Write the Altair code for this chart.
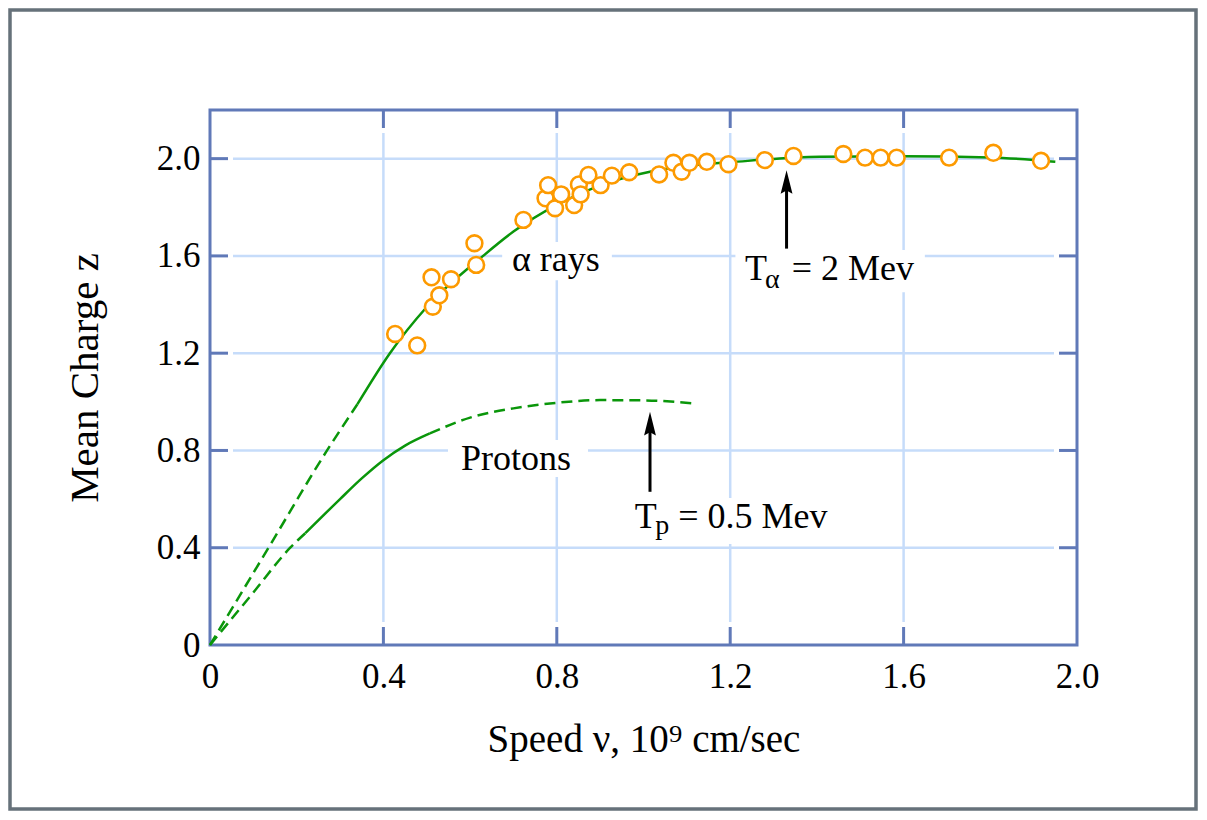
import altair as alt
import pandas as pd

FONT = "Liberation Serif"
GREEN = "#0a960a"
ORANGE = "#fd9a00"
AXIS_BLUE = "#6079b8"
GRID_BLUE = "#c6dcfa"

# alpha-ray measurements (speed in 1e9 cm/s, mean charge)
alpha_v = [0.427, 0.478, 0.511, 0.514, 0.529, 0.556, 0.610, 0.614, 0.723, 0.774,
           0.780, 0.796, 0.810, 0.840, 0.851, 0.855, 0.873, 0.901, 0.927, 0.967,
           1.036, 1.069, 1.088, 1.106, 1.146, 1.196, 1.280, 1.346, 1.461, 1.511,
           1.547, 1.584, 1.705, 1.807, 1.917]
alpha_z = [1.279, 1.232, 1.512, 1.391, 1.438, 1.504, 1.652, 1.563, 1.748, 1.837,
           1.891, 1.796, 1.853, 1.809, 1.894, 1.853, 1.933, 1.891, 1.930, 1.944,
           1.935, 1.983, 1.946, 1.983, 1.987, 1.977, 1.994, 2.011, 2.019, 2.004,
           2.004, 2.004, 2.004, 2.024, 1.991]

# alpha curve: dashed (extrapolated) and solid parts
alpha_dash_v = [0.0, 0.135, 0.27, 0.34]
alpha_dash_z = [0.0, 0.40, 0.80, 0.99]
alpha_solid_v = [0.34, 0.415, 0.5, 0.63, 0.7, 0.8, 0.9, 1.015, 1.1, 1.2, 1.407, 1.6, 1.8, 1.95]
alpha_solid_z = [0.99, 1.20, 1.39, 1.60, 1.70, 1.81, 1.89, 1.946, 1.97, 1.985, 2.008, 2.01, 2.005, 1.987]

# proton curve: dashed, solid, dashed
proton_dash1_v = [0.0, 0.1, 0.185, 0.22]
proton_dash1_z = [0.0, 0.216, 0.40, 0.46]
proton_solid_v = [0.22, 0.3, 0.35, 0.4, 0.45, 0.507]
proton_solid_z = [0.46, 0.60, 0.685, 0.76, 0.82, 0.87]
proton_dash2_v = [0.507, 0.6, 0.7, 0.8, 0.9, 1.0, 1.114]
proton_dash2_z = [0.87, 0.935, 0.973, 0.996, 1.007, 1.006, 0.994]

x_tick_vals = [0.4, 0.8, 1.2, 1.6]
y_tick_vals = [0.4, 0.8, 1.2, 1.6, 2.0]
x_label_vals = [0, 0.4, 0.8, 1.2, 1.6, 2.0]
y_label_vals = [0, 0.4, 0.8, 1.2, 1.6, 2.0]

# annotations
main_text = ["T", "= 2 Mev", "T", "= 0.5 Mev"]
main_text_v = [1.234, 1.342, 0.980, 1.080]
main_text_z = [1.501, 1.501, 0.48, 0.48]
center_text = ["α rays", "Protons"]
center_text_v = [0.798, 0.706]
center_text_z = [1.539, 0.72]
sub_text = ["α", "p"]
sub_text_v = [1.280, 1.027]
sub_text_z = [1.470, 0.458]

# white patches behind labels (break the grid lines)
patch_v1 = [0.674, 0.549, 1.212, 0.957]
patch_v2 = [0.927, 0.872, 1.649, 1.453]
patch_z1 = [1.50, 0.691, 1.451, 0.415]
patch_z2 = [1.657, 0.843, 1.624, 0.605]

# arrows
arrow_v = [1.33, 1.015]
arrow_z0 = [1.63, 0.63]
arrow_head_z = [1.904, 0.910]

W, H = 867, 535
TICK = 18
GAP = 23

xs = alt.Scale(domain=[0, 2.0], nice=False, zero=False)
ys = alt.Scale(domain=[0, 2.2], nice=False, zero=False)

x_axis = alt.Axis(values=x_label_vals,
                  labelExpr="datum.value == 0 ? '0' : format(datum.value, '.1f')",
                  ticks=False, tickSize=0, domain=False, grid=False,
                  labelFont=FONT, labelFontSize=35, labelColor="black", labelPadding=14,
                  labelFlush=False, labelOverlap=False,
                  title="Speed ν, 10⁹ cm/sec", titleFont=FONT, titleFontSize=39,
                  titleFontWeight="normal", titleColor="black", titlePadding=26)
y_axis = alt.Axis(values=y_label_vals,
                  labelExpr="datum.value == 0 ? '0' : format(datum.value, '.1f')",
                  ticks=False, tickSize=0, domain=False, grid=False,
                  labelFont=FONT, labelFontSize=35, labelColor="black", labelPadding=10,
                  labelFlush=False, labelOverlap=False,
                  title="Mean Charge z", titleFont=FONT, titleFontSize=41,
                  titleFontWeight="normal", titleColor="black", titlePadding=50)


def X(f, **kw):
    return alt.X(f, type="quantitative", scale=xs, axis=x_axis, **kw)


def Y(f, **kw):
    return alt.Y(f, type="quantitative", scale=ys, axis=y_axis, **kw)


one = pd.DataFrame({"a": [0]})

frame = alt.Chart(one).mark_rect(filled=False, stroke="#66717a", strokeWidth=3.5).encode(
    x=alt.value(-200), x2=alt.value(W + 119), y=alt.value(-100), y2=alt.value(H + 164))

xg = pd.DataFrame({"v": x_tick_vals})
yg = pd.DataFrame({"z": y_tick_vals})

vgrid = alt.Chart(xg).mark_rule(color=GRID_BLUE, strokeWidth=2.5).encode(
    x=X("v"), y=alt.value(GAP), y2=alt.value(H - GAP))
hgrid = alt.Chart(yg).mark_rule(color=GRID_BLUE, strokeWidth=2.5).encode(
    y=Y("z"), x=alt.value(GAP), x2=alt.value(W - GAP))

patches = alt.Chart(pd.DataFrame({"v1": patch_v1, "v2": patch_v2, "z1": patch_z1, "z2": patch_z2})).mark_rect(
    color="white").encode(x=X("v1"), x2="v2", y=Y("z1"), y2="z2")

tick_b = alt.Chart(xg).mark_rule(color=AXIS_BLUE, strokeWidth=3).encode(
    x=X("v"), y=alt.value(H), y2=alt.value(H - TICK))
tick_t = alt.Chart(xg).mark_rule(color=AXIS_BLUE, strokeWidth=3).encode(
    x=X("v"), y=alt.value(0), y2=alt.value(TICK))
tick_l = alt.Chart(yg).mark_rule(color=AXIS_BLUE, strokeWidth=3).encode(
    y=Y("z"), x=alt.value(0), x2=alt.value(TICK))
tick_r = alt.Chart(yg).mark_rule(color=AXIS_BLUE, strokeWidth=3).encode(
    y=Y("z"), x=alt.value(W - TICK), x2=alt.value(W))


def curve(v, z, dashed):
    kw = dict(color=GREEN, strokeWidth=2.5, interpolate="monotone")
    if dashed:
        kw["strokeDash"] = [11, 6]
    return alt.Chart(pd.DataFrame({"v": v, "z": z})).mark_line(**kw).encode(
        x=X("v"), y=Y("z"), order=alt.Order("v:Q"))


curves = [
    curve(alpha_dash_v, alpha_dash_z, True),
    curve(alpha_solid_v, alpha_solid_z, False),
    curve(proton_dash1_v, proton_dash1_z, True),
    curve(proton_solid_v, proton_solid_z, False),
    curve(proton_dash2_v, proton_dash2_z, True),
]

points = alt.Chart(pd.DataFrame({"v": alpha_v, "z": alpha_z})).mark_point(
    shape="circle", filled=True, fill="white", stroke=ORANGE, strokeWidth=2.6,
    size=250, opacity=1, fillOpacity=1, strokeOpacity=1).encode(x=X("v"), y=Y("z"))

arr = pd.DataFrame({"v": arrow_v, "z0": arrow_z0, "zh": arrow_head_z})
shafts = alt.Chart(arr).mark_rule(color="black", strokeWidth=3).encode(
    x=X("v"), y=Y("z0"), y2="zh")
heads = alt.Chart(arr).mark_point(
    shape="M0,-1L-0.5,1L0,0.72L0.5,1Z", filled=True, color="black", size=560, opacity=1).encode(
    x=X("v"), y=Y("zh"))

txt_left = alt.Chart(pd.DataFrame({"v": main_text_v, "z": main_text_z, "t": main_text})).mark_text(
    font=FONT, fontSize=36, align="left", baseline="alphabetic", color="black").encode(
    x=X("v"), y=Y("z"), text="t:N")
txt_center = alt.Chart(pd.DataFrame({"v": center_text_v, "z": center_text_z, "t": center_text})).mark_text(
    font=FONT, fontSize=36, align="center", baseline="alphabetic", color="black").encode(
    x=X("v"), y=Y("z"), text="t:N")
txt_sub = alt.Chart(pd.DataFrame({"v": sub_text_v, "z": sub_text_z, "t": sub_text})).mark_text(
    font=FONT, fontSize=28, align="left", baseline="alphabetic", color="black").encode(
    x=X("v"), y=Y("z"), text="t:N")

chart = alt.layer(
    frame, vgrid, hgrid, patches, tick_b, tick_t, tick_l, tick_r,
    *curves, points, shafts, heads, txt_left, txt_center, txt_sub
).properties(
    width=W, height=H,
    padding={"left": 202, "top": 102, "right": 121, "bottom": 168},
    autosize=alt.AutoSizeParams(type="none"),
    background="white",
).configure_view(stroke=AXIS_BLUE, strokeWidth=3)

chart.save("out.html", embed_options={"renderer": "svg", "actions": False})
